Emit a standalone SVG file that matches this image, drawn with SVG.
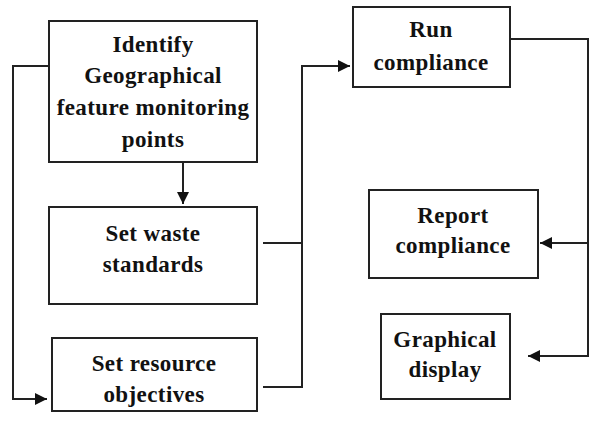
<svg xmlns="http://www.w3.org/2000/svg" width="590" height="430" viewBox="0 0 590 430">
  <style>
    .box { fill: #ffffff; stroke: #222222; stroke-width: 2; }
    .lbl { font-family: "Liberation Serif", "Times New Roman", serif; font-weight: bold; font-size: 23px; letter-spacing: 0.4px; fill: #111111; text-anchor: middle; }
    .wire { fill: none; stroke: #222222; stroke-width: 2; }
  </style>
  <defs>
    <marker id="arrow" viewBox="0 0 12 12" refX="12" refY="6" markerWidth="12" markerHeight="12" markerUnits="userSpaceOnUse" orient="auto">
      <path d="M0,0 L12,6 L0,12 Z" fill="#111111"/>
    </marker>
  </defs>
  <rect width="590" height="430" fill="#ffffff"/>

  <g id="identify">
    <rect class="box" x="49" y="21" width="208" height="141"/>
    <text class="lbl" x="153" y="52">Identify</text>
    <text class="lbl" x="153" y="83">Geographical</text>
    <text class="lbl" x="153" y="115">feature monitoring</text>
    <text class="lbl" x="153" y="147">points</text>
  </g>
  <g id="waste">
    <rect class="box" x="49" y="207" width="208" height="97"/>
    <text class="lbl" x="153" y="241">Set waste</text>
    <text class="lbl" x="153" y="272">standards</text>
  </g>
  <g id="resource">
    <rect class="box" x="52" y="338" width="205" height="73"/>
    <text class="lbl" x="154" y="371">Set resource</text>
    <text class="lbl" x="154" y="402">objectives</text>
  </g>
  <g id="run">
    <rect class="box" x="353" y="7" width="157" height="80"/>
    <text class="lbl" x="431" y="37">Run</text>
    <text class="lbl" x="431" y="70">compliance</text>
  </g>
  <g id="report">
    <rect class="box" x="369" y="190" width="169" height="88"/>
    <text class="lbl" x="453" y="223">Report</text>
    <text class="lbl" x="453" y="253">compliance</text>
  </g>
  <g id="graphical">
    <rect class="box" x="381" y="314" width="129" height="85"/>
    <text class="lbl" x="445" y="347">Graphical</text>
    <text class="lbl" x="445" y="377">display</text>
  </g>

  <g id="connectors">
    <!-- left feedback loop into resource objectives -->
    <path class="wire" d="M49,66 H13 V399 H47" marker-end="url(#arrow)"/>
    <!-- identify to waste standards -->
    <path class="wire" d="M183,162 V204" marker-end="url(#arrow)"/>
    <!-- both standard boxes merge into run compliance -->
    <path class="wire" d="M263,243 H302"/>
    <path class="wire" d="M263,387 H302 V66 H350" marker-end="url(#arrow)"/>
    <!-- run compliance fans out to outputs -->
    <path class="wire" d="M510,39 H588 V356 H528" marker-end="url(#arrow)"/>
    <path class="wire" d="M588,243 H540" marker-end="url(#arrow)"/>
  </g>
</svg>
